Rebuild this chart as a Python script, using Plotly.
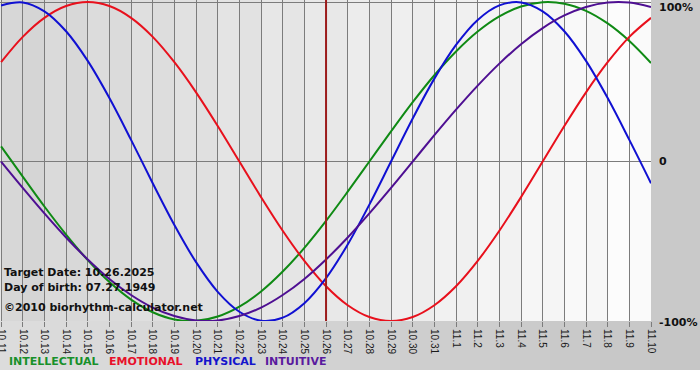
import plotly.graph_objects as go

# ---- data ----
days = ["10.11", "10.12", "10.13", "10.14", "10.15", "10.16", "10.17", "10.18", "10.19", "10.20",
        "10.21", "10.22", "10.23", "10.24", "10.25", "10.26", "10.27", "10.28", "10.29", "10.30",
        "10.31", "11.1", "11.2", "11.3", "11.4", "11.5", "11.6", "11.7", "11.8", "11.9", "11.10"]

intellectual = [9.5, -9.5, -28.2, -45.8, -61.8, -75.6, -86.6, -94.5, -99.0, -99.9,
                -97.2, -91.0, -81.5, -69.0, -54.1, -37.2, -18.9, 0.0, 18.9, 37.2,
                54.1, 69.0, 81.5, 91.0, 97.2, 99.9, 99.0, 94.5, 86.6, 75.6, 61.8]
emotional = [62.3, 78.2, 90.1, 97.5, 100.0, 97.5, 90.1, 78.2, 62.3, 43.4,
             22.3, 0.0, -22.3, -43.4, -62.3, -78.2, -90.1, -97.5, -100.0, -97.5,
             -90.1, -78.2, -62.3, -43.4, -22.3, 0.0, 22.3, 43.4, 62.3, 78.2, 90.1]
physical = [97.9, 99.8, 94.2, 81.7, 63.1, 39.8, 13.6, -13.6, -39.8, -63.1,
            -81.7, -94.2, -99.8, -97.9, -88.8, -73.1, -52.0, -27.0, 0.0, 27.0,
            52.0, 73.1, 88.8, 97.9, 99.8, 94.2, 81.7, 63.1, 39.8, 13.6, -13.6]
intuitive = [0.0, -16.5, -32.5, -47.6, -61.4, -73.6, -83.7, -91.6, -96.9, -99.7,
             -99.7, -96.9, -91.6, -83.7, -73.6, -61.4, -47.6, -32.5, -16.5, 0.0,
             16.5, 32.5, 47.6, 61.4, 73.6, 83.7, 91.6, 96.9, 99.7, 99.7, 96.9]

series_names = ["INTELLECTUAL", "EMOTIONAL", "PHYSICAL", "INTUITIVE"]
y_tick_vals = [100, 0, -100]
y_tick_text = ["100%", "0", "-100%"]
target_day = "10.26"
target_date = "10.26.2025"
birth_date = "07.27.1949"
copyright_text = "©2010 biorhythm-calculator.net"

# ---- styles ----
line_colors = ["#0f8a14", "#e8101c", "#1010d2", "#4e0f92"]
legend_colors = ["#18902a", "#e8102a", "#1414cc", "#5a1a9e"]
W, H = 700, 380
ML, MR, MT, MB = 0, 49, 0, 59
PW, PH = W - ML - MR, H - MT - MB
FONT_B = "DejaVu Sans"


def px(x):
    return (x - ML) / PW


def py(y):
    return (MT + PH - y) / PH


fig = go.Figure()
for name, vals, col in zip(series_names, [intellectual, emotional, physical, intuitive], line_colors):
    fig.add_trace(go.Scatter(x=days, y=vals, mode="lines", name=name,
                             line=dict(color=col, width=2, shape="spline", smoothing=1.0),
                             hoverinfo="skip"))

shapes = []
# column stripes with a left-to-right light gradient
n = len(days) - 1
for i in range(n):
    g = 213 + (251 - 213) * i / (n - 1) + (2 if i % 2 == 0 else -1)
    g = int(max(0, min(255, round(g))))
    shapes.append(dict(type="rect", xref="x", yref="paper", x0=i, x1=i + 1, y0=0, y1=1,
                       fillcolor=f"rgb({g},{g},{g})", line=dict(width=0), layer="below"))
# bottom band gradient
nb = 14
for j in range(nb):
    g = int(round(220 - (220 - 198) * j / (nb - 1)))
    shapes.append(dict(type="rect", xref="paper", yref="paper",
                       x0=px(j * W / nb), x1=px((j + 1) * W / nb + 1),
                       y0=py(370), y1=0, fillcolor=f"rgb({g},{g},{g})",
                       line=dict(width=0), layer="below"))
# white strip at very bottom
shapes.append(dict(type="rect", xref="paper", yref="paper", x0=px(0), x1=px(W + 2),
                   y0=py(H + 2), y1=py(370), fillcolor="#ffffff", line=dict(width=0), layer="below"))
# target day line
ti = days.index(target_day)
shapes.append(dict(type="line", xref="x", yref="paper", x0=ti, x1=ti, y0=0, y1=1,
                   line=dict(color="#9c1c1c", width=2), layer="above"))

annotations = []
# right axis labels
for v, t in zip(y_tick_vals, y_tick_text):
    ys = {100: -5, 0: 0, -100: -1}[v]
    annotations.append(dict(text=f"<b>{t}</b>", xref="paper", yref="y", x=1, y=v,
                            xanchor="left", yanchor="middle", xshift=6, yshift=ys,
                            showarrow=False, font=dict(family=FONT_B, size=11, color="#111111")))
# info texts
for txt, yy in [(f"Target Date: {target_date}", 272), (f"Day of birth: {birth_date}", 287.5),
                (copyright_text, 307)]:
    annotations.append(dict(text=f"<b>{txt}</b>", xref="paper", yref="paper", x=px(2), y=py(yy),
                            xanchor="left", yanchor="middle", showarrow=False,
                            font=dict(family=FONT_B, size=11, color="#111111")))
# legend texts
for name, col, xx in zip(series_names, legend_colors, [7, 107, 192.5, 263]):
    annotations.append(dict(text=f"<b>{name}</b>", xref="paper", yref="paper", x=px(xx), y=py(361.5),
                            xanchor="left", yanchor="middle", showarrow=False,
                            font=dict(family=FONT_B, size=11, color=col)))

fig.update_layout(
    width=W, height=H,
    margin=dict(l=ML, r=MR, t=MT, b=MB, pad=0),
    paper_bgcolor="#c9c9c9",
    plot_bgcolor="#e6e6e6",
    showlegend=False,
    shapes=shapes,
    annotations=annotations,
    xaxis=dict(type="category", range=[-0.05, n], showgrid=True, gridcolor="#7c7c7c", gridwidth=1,
               ticks="outside", ticklen=5, tickcolor="#7c7c7c", tickwidth=1,
               tickangle=90, tickfont=dict(family="Liberation Sans", size=10, color="#1a1a1a"),
               showline=False, zeroline=False, fixedrange=True, automargin=False),
    yaxis=dict(range=[-100, 101.3], tickvals=y_tick_vals, showticklabels=False,
               showgrid=True, gridcolor="#7c7c7c", gridwidth=1, zeroline=False,
               showline=False, ticks="", fixedrange=True, automargin=False),
)

fig.write_html("out.html", config={"displayModeBar": False},
               post_script="document.body.style.margin='0';document.body.style.padding='0';")
